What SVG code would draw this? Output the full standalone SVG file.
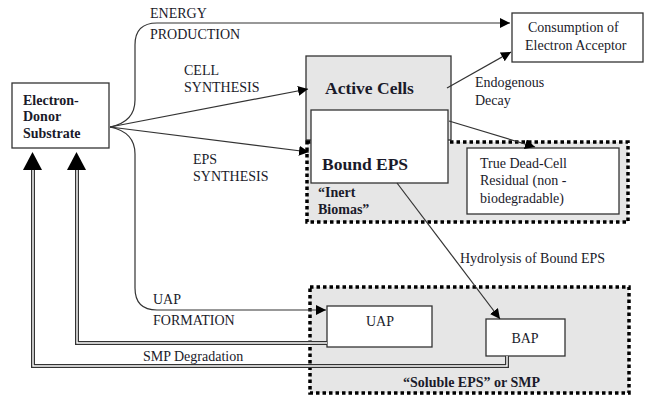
<svg xmlns="http://www.w3.org/2000/svg" width="646" height="395" viewBox="0 0 646 395">
<defs>
<marker id="ah" viewBox="0 0 10 10" refX="10" refY="5" markerWidth="10" markerHeight="10" markerUnits="userSpaceOnUse" orient="auto">
<path d="M0,0 L10,5 L0,10 Z" fill="#000"/>
</marker>
</defs>
<style>
text{font-family:"Liberation Serif","Times New Roman",Times,"DejaVu Serif",serif;fill:#1a1a2a}
.lbl{font-size:14px}
.b{font-weight:bold}
.box{fill:#fff;stroke:#333;stroke-width:1.3}
.gray{fill:#e6e6e6;stroke:#333;stroke-width:1.3}
.dot{fill:#e6e6e6;stroke:#000;stroke-width:3.5;stroke-dasharray:3.5 3}
.ln{fill:none;stroke:#333;stroke-width:1.2}
.dblo{fill:none;stroke:#333;stroke-width:4}
.dbli{fill:none;stroke:#fff;stroke-width:1.4}
</style>
<rect width="646" height="395" fill="#fff"/>

<g id="soluble-group">
<rect class="dot" x="310" y="287" width="319" height="106"/>
<text class="b lbl" x="403" y="387">“Soluble EPS” or SMP</text>
</g>

<g id="active-cells">
<rect class="gray" x="306" y="56" width="145" height="84"/>
<text class="b" x="325" y="94" font-size="17.5">Active Cells</text>
</g>

<g id="inert-biomass">
<rect class="dot" x="307" y="142" width="321" height="80"/>
<text class="b lbl" x="318" y="197">“Inert</text>
<text class="b lbl" x="318" y="214">Biomas”</text>
</g>

<g id="bound-eps">
<rect class="box" x="311" y="110" width="137" height="73"/>
<text class="b" x="322" y="170" font-size="17.5">Bound EPS</text>
</g>

<g id="electron-donor">
<rect class="box" x="12" y="83" width="97" height="65"/>
<text class="b lbl" x="23" y="105">Electron-</text>
<text class="b lbl" x="23" y="121">Donor</text>
<text class="b lbl" x="23" y="138">Substrate</text>
</g>

<g id="consumption">
<rect class="box" x="512" y="13" width="131" height="49"/>
<text class="lbl" x="528" y="32">Consumption of</text>
<text class="lbl" x="525" y="50">Electron Acceptor</text>
</g>

<g id="dead-cell">
<rect class="box" x="467" y="148" width="152" height="66"/>
<text class="lbl" x="480" y="168">True Dead-Cell</text>
<text class="lbl" x="480" y="185">Residual (non -</text>
<text class="lbl" x="480" y="203">biodegradable)</text>
</g>

<g id="uap">
<rect class="box" x="327" y="306" width="105" height="41"/>
<text class="lbl" x="380" y="326" text-anchor="middle">UAP</text>
</g>

<g id="bap">
<rect class="box" x="486" y="319" width="79" height="37"/>
<text class="lbl" x="525" y="343" text-anchor="middle">BAP</text>
</g>

<g id="connectors">
<path class="ln" d="M110,127 Q135,122 135,100 L135,45 Q135,23 157,23 L510,23" marker-end="url(#ah)"/>
<path class="ln" d="M110,127 Q135,132 135,154 L135,288 Q135,310 157,310 L326,310" marker-end="url(#ah)"/>
<line class="ln" x1="110" y1="127" x2="308" y2="89" marker-end="url(#ah)"/>
<line class="ln" x1="110" y1="127" x2="309" y2="152" marker-end="url(#ah)"/>
<line class="ln" x1="447" y1="88" x2="511" y2="52" stroke-width="1" marker-end="url(#ah)"/>
<line class="ln" x1="449" y1="121" x2="535" y2="147" stroke-width="1" marker-end="url(#ah)"/>
<line class="ln" x1="397" y1="183" x2="500" y2="319" stroke-width="1" marker-end="url(#ah)"/>
<path class="dblo" d="M327,343 L77,343 L77,170"/>
<path class="dbli" d="M327,343 L77,343 L77,170"/>
<path class="dblo" d="M507,356 L507,366 L33,366 L33,170"/>
<path class="dbli" d="M507,356 L507,366 L33,366 L33,170"/>
<path d="M23,170 L32.5,152 L42,170 Z" fill="#000"/>
<path d="M67,170 L76.5,152 L86,170 Z" fill="#000"/>
</g>

<g id="labels">
<text class="lbl" x="150" y="18">ENERGY</text>
<text class="lbl" x="150" y="39">PRODUCTION</text>
<text class="lbl" x="184" y="75">CELL</text>
<text class="lbl" x="184" y="92">SYNTHESIS</text>
<text class="lbl" x="193" y="164">EPS</text>
<text class="lbl" x="193" y="181">SYNTHESIS</text>
<text class="lbl" x="475" y="87">Endogenous</text>
<text class="lbl" x="475" y="105">Decay</text>
<text class="lbl" x="460" y="263">Hydrolysis of Bound EPS</text>
<text class="lbl" x="153" y="304">UAP</text>
<text class="lbl" x="153" y="325">FORMATION</text>
<text class="lbl" x="143" y="361">SMP Degradation</text>
</g>
</svg>
